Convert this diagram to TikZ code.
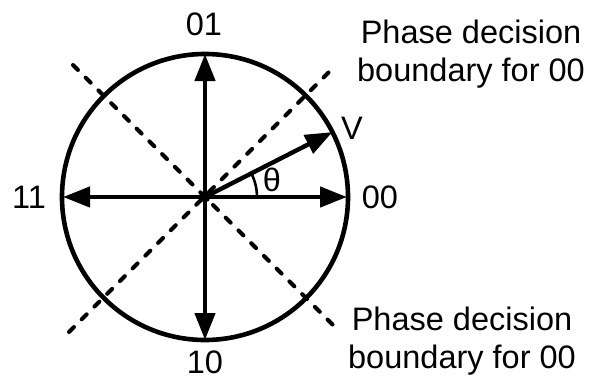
\documentclass[tikz,border=0pt]{standalone}
\usepackage{fontspec}
\setmainfont{Liberation Sans}
\usetikzlibrary{arrows.meta}
\begin{document}
\begin{tikzpicture}[x=1pt,y=-1pt,
  lbl/.style={font=\fontsize{32.5}{38}\selectfont, inner sep=0pt},
  solidln/.style={line width=4.4pt},
  dashln/.style={line width=4pt, dash pattern=on 7pt off 11pt, line cap=round},
  arr/.style={solidln, -{Triangle[length=27pt,width=20pt]}},
  darr/.style={solidln, {Triangle[length=27pt,width=20pt]}-{Triangle[length=27pt,width=20pt]}}]
\useasboundingbox (0,0) rectangle (592,380);
\coordinate (O) at (205,197);
\coordinate (T) at (205,54);
\coordinate (B) at (205,340);
\coordinate (L) at (63,197);
\coordinate (R) at (347,197);
\coordinate (Vt) at (332.4,132.1);
\coordinate (UL) at (73,65);
\coordinate (LR) at (338,330);
\coordinate (LL) at (69,332);
\coordinate (UR) at (335,66);
\coordinate (A0) at (257,197);
% dashed decision boundaries
\draw[dashln] (UL) -- (LR);
\draw[dashln] (LL) -- (UR);
% circle
\draw[line width=4.6pt] (O) circle[radius=143];
% axes
\draw[darr] (B) -- (T);
\draw[darr] (L) -- (R);
\draw[arr] (O) -- (Vt);
\fill (O) circle[radius=5.5];
% angle arc
\draw[line width=2.6pt] (A0) arc[start angle=0, end angle=-27, radius=52];
% labels
\node[lbl] (l01) at (204,24) {01};
\node[lbl] (l10) at (205,362) {10};
\node[lbl] (l11) at (29,197) {11};
\node[lbl] (l00) at (380,197) {00};
\node[lbl] (lV) at (352,128) {V};
\node[lbl] (lth) at (272,180) {θ};
\node[lbl, anchor=base] (t1) at (471,43) {Phase decision};
\node[lbl, anchor=base] (t2) at (471,81) {boundary for 00};
\node[lbl, anchor=base] (b1) at (462,330) {Phase decision};
\node[lbl, anchor=base] (b2) at (462,368) {boundary for 00};
\end{tikzpicture}
\end{document}
